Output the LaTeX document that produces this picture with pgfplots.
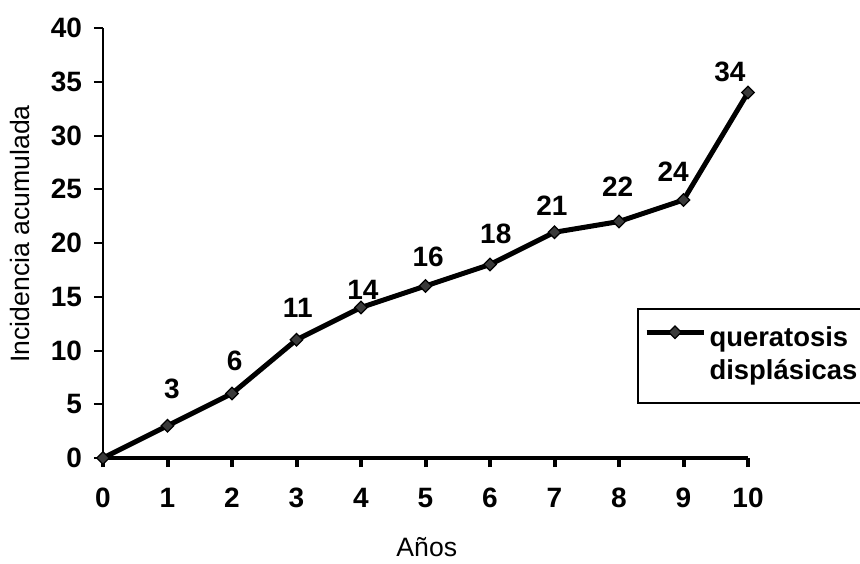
\documentclass[border=0pt]{standalone}
\usepackage{fontspec}
\setmainfont{Liberation Sans}
\usepackage{pgfplots}
\pgfplotsset{compat=1.18}
\definecolor{mkfill}{HTML}{3A3A3A}
\begin{document}
\begin{tikzpicture}
\useasboundingbox (-51.5pt,-52.5pt) rectangle (378.5pt,229pt);
\begin{axis}[
  scale only axis, width=322.5pt, height=215pt,
  xmin=0, xmax=10, ymin=0, ymax=40,
  clip=false,
  axis x line*=bottom, axis y line*=left,
  x axis line style={line width=2.2pt, -},
  y axis line style={line width=1pt, -},
  xtick={0,1,...,10}, ytick={0,5,...,40},
  tick align=outside, major tick length=4.5pt,
  x tick style={line width=2pt, black},
  y tick style={line width=1pt, black},
  /pgf/number format/assume math mode=true,
  tick label style={font=\fontsize{14}{16}\selectfont\bfseries},
  x tick label style={yshift=-7pt},
  y tick label style={xshift=-2.5pt},
  xlabel={Años}, ylabel={Incidencia acumulada},
  label style={font=\fontsize{13.3}{16}\selectfont},
  xlabel style={at={(axis description cs:0.502,-0.2302)}, anchor=base},
  ylabel style={at={(axis description cs:-0.1287,0.521)}, anchor=center},
  legend style={at={(axis cs:8.279,13.95)}, anchor=north west, draw=black, line width=1pt,
    inner xsep=3pt, inner ysep=8.5pt, column sep=1.8pt, row sep=3.5pt,
    font=\fontsize{13.7}{16.5}\selectfont\bfseries,
    nodes={inner sep=0pt, text height=10pt, text depth=2.9pt}},
  legend cell align=left,
  legend image code/.code={
    \draw[mark repeat=2, mark phase=2, #1] plot coordinates {(0pt,3.8pt) (14.25pt,3.8pt) (28.5pt,3.8pt)};
  },
]
\addplot[black, line width=2.5pt, mark=square*, mark size=2.2pt,
  mark options={rotate=45, fill=mkfill, draw=black, line width=0.6pt, solid}]
  coordinates {(0,0) (1,3) (2,6) (3,11) (4,14) (5,16) (6,18) (7,21) (8,22) (9,24) (10,34)};
\addlegendentry{queratosis}
\addlegendimage{empty legend}
\addlegendentry{displásicas\hspace{6pt}}
\addplot[forget plot, only marks, mark=none, nodes near coords, point meta=explicit symbolic,
  nodes near coords style={anchor=center, inner sep=0pt, font=\fontsize{14}{16}\selectfont\bfseries}]
  table[meta=lab] {
x y lab
1.07 6.42 3
2.04 9.02 6
3.02 14.0 11
4.03 15.63 14
5.04 18.7 16
6.09 20.84 18
6.96 23.44 21
7.98 25.21 22
8.84 26.6 24
9.72 35.9 34
};
\end{axis}
\end{tikzpicture}
\end{document}
